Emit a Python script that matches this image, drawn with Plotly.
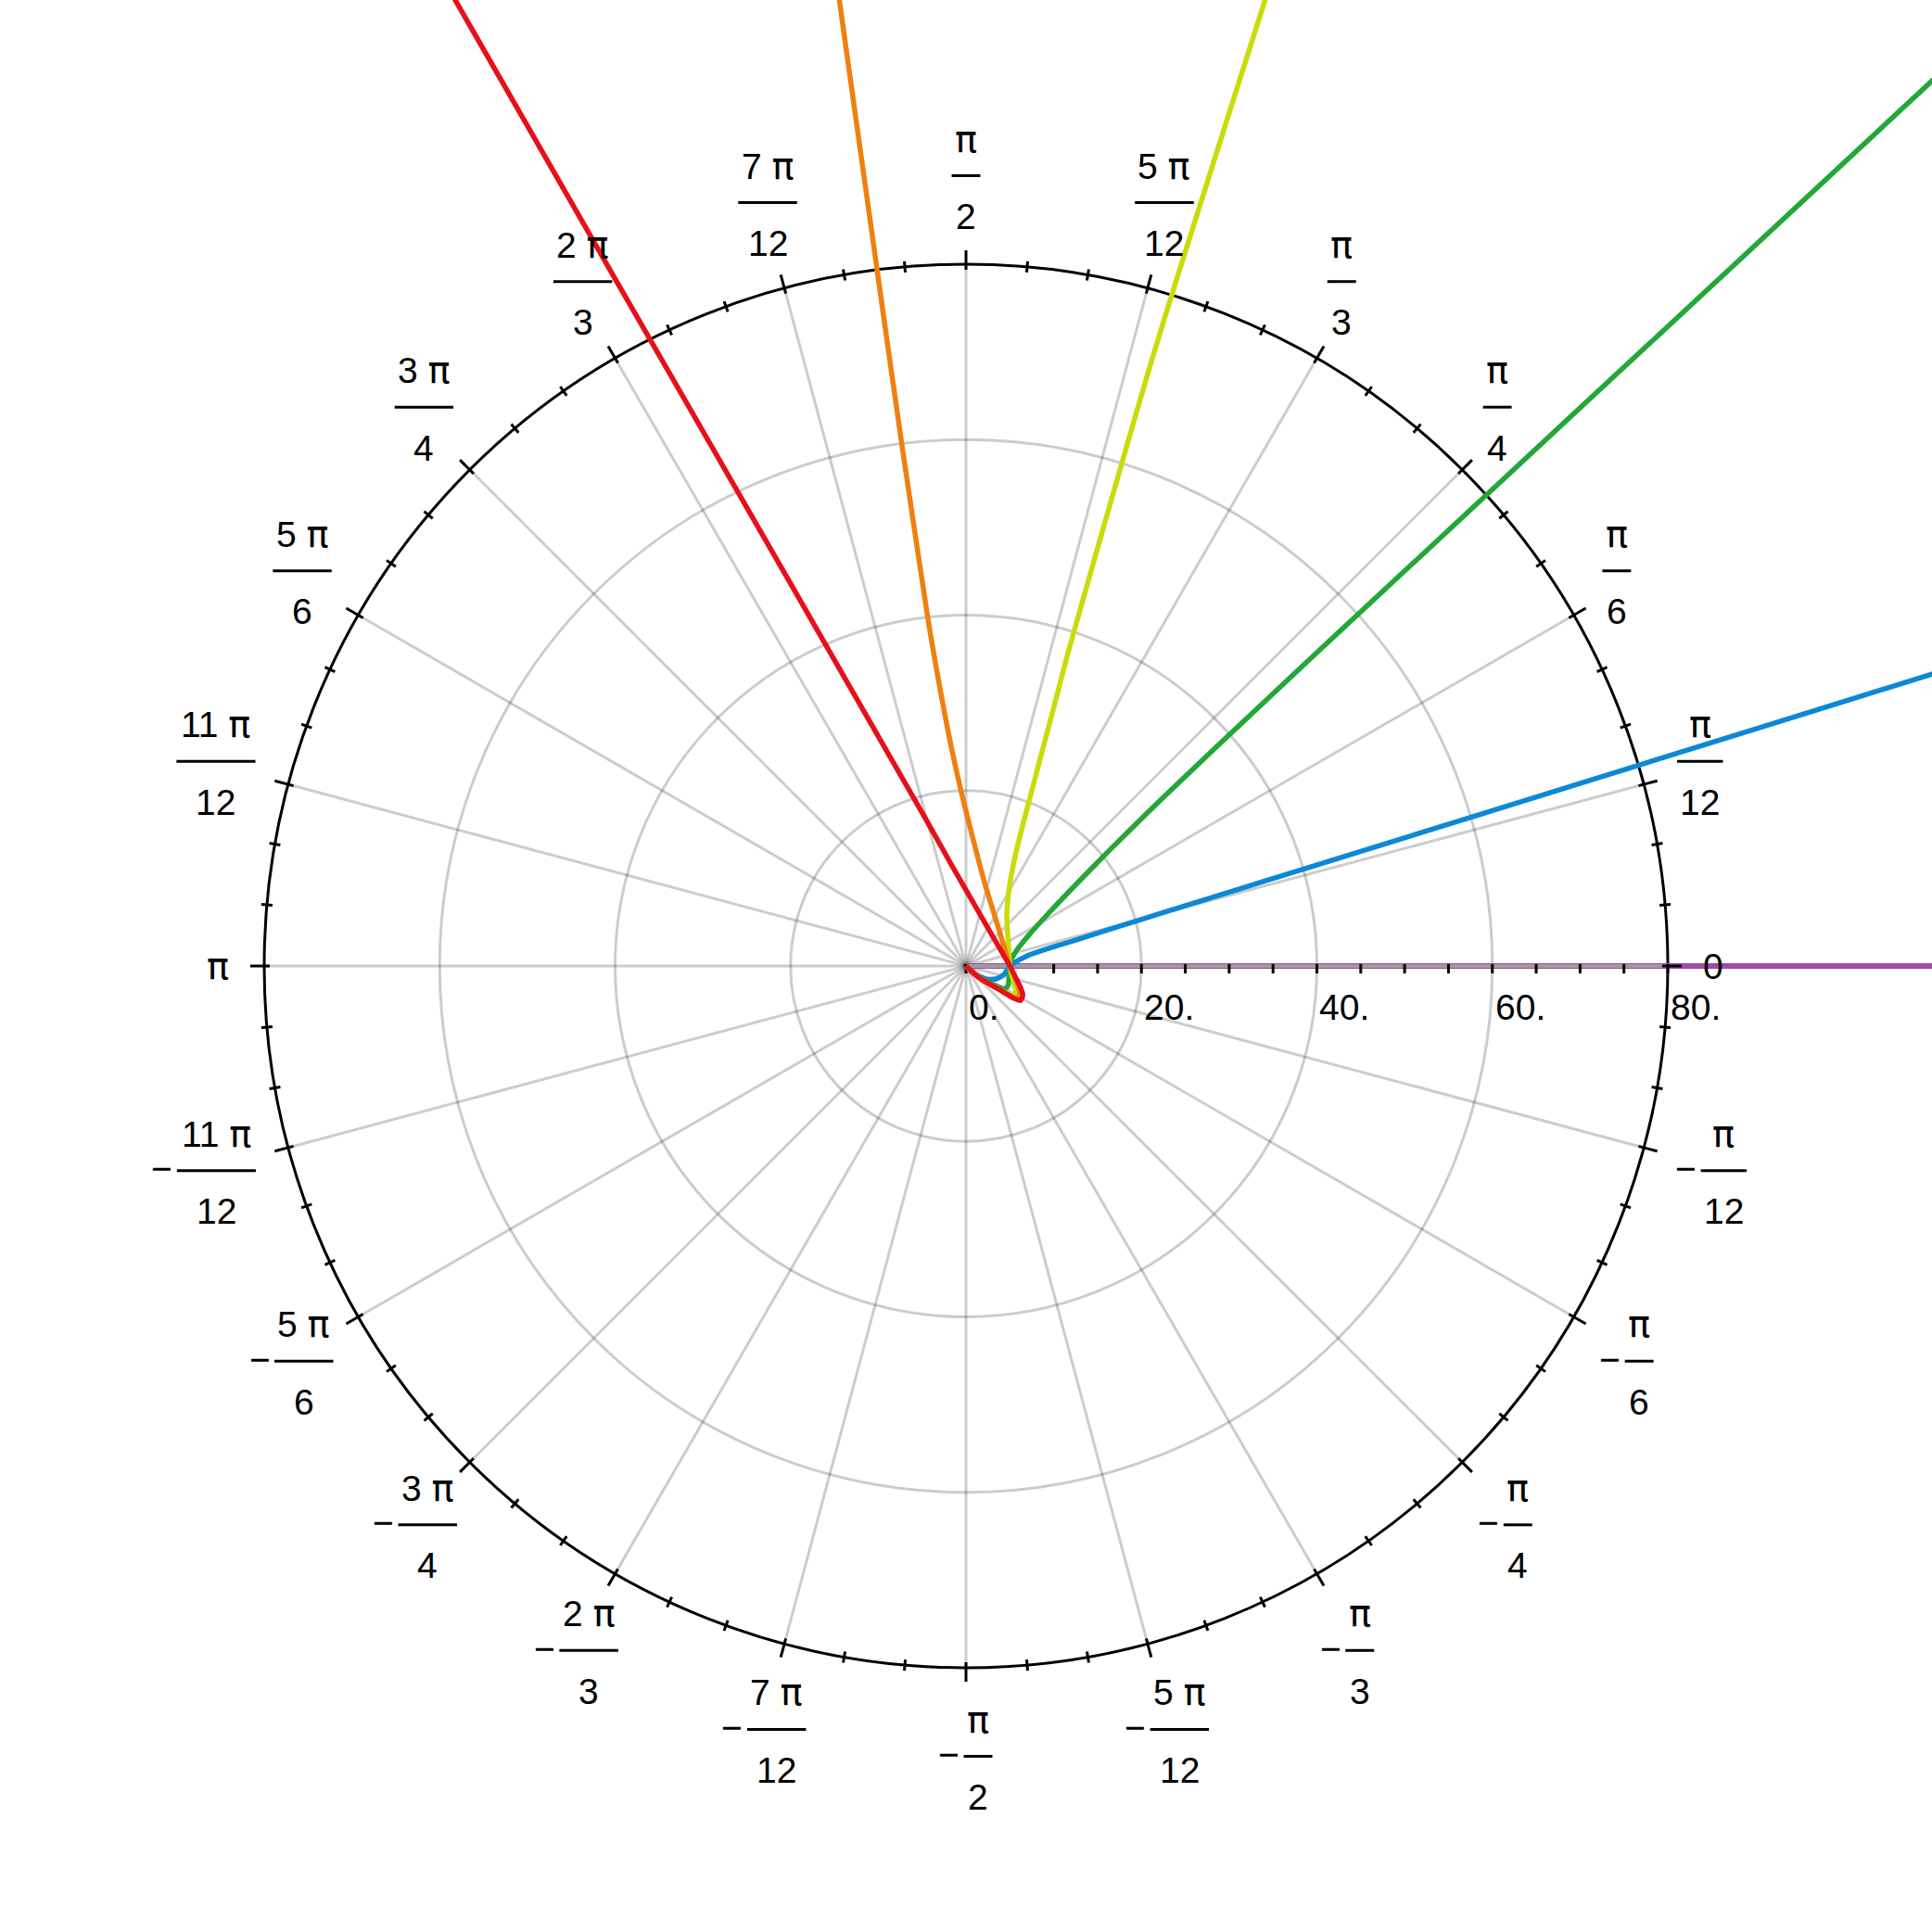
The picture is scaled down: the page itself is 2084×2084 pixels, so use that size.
import numpy as np
import plotly.graph_objects as go

# ---------------- data (polar: r, theta in degrees) ----------------
purple_r = [0, 200]
purple_theta = [0, 0]

blue_r = [0, 1.2, 2.69, 3.78, 4.47, 5.0, 6.92, 9.51, 13.18, 20.56, 27.93, 35.3, 44.89, 72.55, 115.03, 160.0]
blue_theta = [-45, -45, -33.3, -22.6, -11.9, 0, 9.07, 11.96, 13.38, 14.88, 15.5, 15.86, 16.15, 16.56, 16.81, 16.95]

green_r = [0, 2.07, 4.0, 5.09, 5.29, 5.09, 5.0, 5.26, 6.05, 8.02, 11.01, 16.01, 21.01, 25.94, 30.83, 38.1, 45.36, 54.04, 93.96, 149.38, 200]
green_theta = [-42, -41.5, -34.2, -30.8, -25.2, -15.6, 0, 8.7, 17.3, 26.28, 32.35, 36.8, 38.89, 40.0, 40.65, 41.2, 41.52, 41.78, 42.26, 42.5, 42.65]

yellow_r = [0, 2.07, 4.5, 6.16, 6.41, 5.85, 5.3, 5.0, 5.67, 7.47, 9.96, 12.69, 16.24, 19.85, 25.28, 30.73, 38.0, 59.97, 71.34, 82.03, 115.29, 160]
yellow_theta = [-42, -41.5, -35.4, -32.4, -27.9, -20, -10.9, 0, 32.3, 51.5, 60.5, 64.9, 67.56, 68.98, 70.35, 71.2, 71.99, 72.78, 72.95, 72.95, 72.8, 72.7]

orange_r = [0, 2.07, 4.5, 6.51, 7.0, 6.8, 5.92, 5.0, 4.8, 4.83, 5.08, 5.76, 9.3, 14.33, 19.95, 25.63, 34.2, 39.9, 60.19, 79.05, 111.06, 150]
orange_theta = [-42, -41.5, -35.4, -33.5, -31, -26.2, -15.7, 0, 12, 24.4, 36.2, 50.4, 76.0, 86.6, 91.6, 94.03, 95.7, 96.26, 97.02, 97.27, 97.47, 97.6]

red_r = [0, 2.07, 4.50, 6.55, 7.35, 7.28, 6.53, 5.73, 5.0, 4.36, 5.0, 8.66, 11.94, 17.98, 37.0, 56.0, 88.04, 124.6, 170]
red_theta = [-42, -41.5, -35.4, -34.0, -32.5, -27.1, -20.2, -12.1, 0, 23.4, 60, 90, 98.7, 105.8, 113.1, 115.4, 117.05, 117.87, 118.4]

curve_colors = {
    "purple": "#a24aa6", "blue": "#0b89d6", "green": "#22a838",
    "yellow": "#c9dc0a", "orange": "#ef8010", "red": "#e5101a",
}

# radial axis
radial_ticks = list(range(0, 85, 5))
radial_label_vals = [0, 20, 40, 60, 80]
radial_label_txt = ["0.", "20.", "40.", "60.", "80."]
grid_radii = [20, 40, 60]
r_max = 80

# angular axis (degrees) and labels
ang_deg = [0, 15, 30, 45, 60, 75, 90, 105, 120, 135, 150, 165, 180,
           -15, -30, -45, -60, -75, -90, -105, -120, -135, -150, -165]
ang_num = ["0", "π", "π", "π", "π", "5 π", "π", "7 π", "2 π", "3 π", "5 π", "11 π", "π",
           "π", "π", "π", "π", "5 π", "π", "7 π", "2 π", "3 π", "5 π", "11 π"]
ang_den = ["", "12", "6", "4", "3", "12", "2", "12", "3", "4", "6", "12", "",
           "12", "6", "4", "3", "12", "2", "12", "3", "4", "6", "12"]
ang_neg = [False] * 13 + [True] * 11
minor_deg = list(range(0, 360, 5))

# ---------------- geometry helpers ----------------
W = 2084
S = 757.0 / 80.0          # px per data unit
HALF = (W / 2) / S        # half range in data units
FONT = "Liberation Sans, Arial, sans-serif"
PI_FONT = "DejaVu Sans"
FS = 39


def to_xy(r, th):
    r = np.asarray(r, float)
    t = np.radians(np.asarray(th, float))
    return r * np.cos(t), r * np.sin(t)


def text_w(s):
    w = 0.0
    for ch in s:
        if ch.isdigit():
            w += 0.556 * FS
        elif ch == "π":
            w += 0.64 * FS
        elif ch == " ":
            w += 0.278 * FS
        else:
            w += 0.5 * FS
    return w


def fmt(s):
    return s.replace("π", "<span style=\"font-family:%s;font-size:40px\">π</span>" % PI_FONT)


fig = go.Figure()
shapes = []
annotations = []

# grid circles
for g in grid_radii:
    shapes.append(dict(type="circle", xref="x", yref="y", x0=-g, y0=-g, x1=g, y1=g,
                       line=dict(color="rgba(0,0,0,0.2)", width=3), layer="below"))
# spokes
for a in range(0, 360, 15):
    x1, y1 = to_xy(r_max, a)
    shapes.append(dict(type="line", xref="x", yref="y", x0=0, y0=0, x1=float(x1), y1=float(y1),
                       line=dict(color="rgba(0,0,0,0.2)", width=3), layer="below"))
# outer circle
shapes.append(dict(type="circle", xref="x", yref="y", x0=-r_max, y0=-r_max, x1=r_max, y1=r_max,
                   line=dict(color="black", width=3), layer="below"))


def add_curve(r, th, color, width=5.5):
    x, y = to_xy(r, th)
    fig.add_trace(go.Scatter(x=x, y=y, mode="lines",
                             line=dict(color=color, width=width, shape="spline", smoothing=0.7),
                             hoverinfo="skip", showlegend=False))


add_curve(purple_r, purple_theta, curve_colors["purple"], 6)

# radial axis line (drawn above purple)
fig.add_trace(go.Scatter(x=[0, r_max], y=[0, 0], mode="lines", line=dict(color="#9c9c9c", width=4),
                         hoverinfo="skip", showlegend=False))

# ticks
tx, ty = [], []
for a in minor_deg:
    if a % 15 == 0:
        r0, r1 = r_max - 6 / S, r_max + 15 / S
    else:
        r0, r1 = r_max - 6 / S, r_max + 6 / S
    xa, ya = to_xy([r0, r1], [a, a])
    tx += list(xa) + [None]
    ty += list(ya) + [None]
for v in radial_ticks:
    tx += [v, v, None]
    ty += [2 / S, -8 / S, None]
fig.add_trace(go.Scatter(x=tx, y=ty, mode="lines", line=dict(color="black", width=3),
                         hoverinfo="skip", showlegend=False))

add_curve(blue_r, blue_theta, curve_colors["blue"])
add_curve(green_r, green_theta, curve_colors["green"])
add_curve(yellow_r, yellow_theta, curve_colors["yellow"])
add_curve(orange_r, orange_theta, curve_colors["orange"])
add_curve(red_r, red_theta, curve_colors["red"])

# radial labels
for v, t in zip(radial_label_vals, radial_label_txt):
    annotations.append(dict(x=v + 0.1, y=-44 / S, xref="x", yref="y", text=t, showarrow=False,
                            xanchor="left", yanchor="middle", font=dict(family=FONT, size=FS, color="black")))

# angular labels
R_E = 795.0
for a, num, den, neg in zip(ang_deg, ang_num, ang_den, ang_neg):
    t = np.radians(a)
    if den:
        bw = max(text_w(num), text_w(den)) + 6
        H = 115.0
    else:
        bw = text_w(num)
        H = 28.0
    Wt = bw + (26 if neg else 0)
    cx = R_E * np.cos(t) + Wt / 2 * np.cos(t)
    cy = R_E * np.sin(t) + H / 2 * np.sin(t)
    left = cx - Wt / 2
    bx = left + (26 if neg else 0) + bw / 2
    f = dict(family=FONT, size=FS, color="black")
    if den:
        annotations.append(dict(x=bx / S, y=cy / S, xref="x", yref="y", text=fmt(num), showarrow=False,
                                xanchor="center", yanchor="middle", yshift=40, font=f))
        annotations.append(dict(x=bx / S, y=cy / S, xref="x", yref="y", text=den, showarrow=False,
                                xanchor="center", yanchor="middle", yshift=-44, font=f))
        shapes.append(dict(type="line", xref="x", yref="y", x0=(bx - bw / 2) / S, x1=(bx + bw / 2) / S,
                           y0=cy / S, y1=cy / S, line=dict(color="black", width=3)))
        if neg:
            annotations.append(dict(x=(left + 10) / S, y=cy / S, xref="x", yref="y", text="−", showarrow=False,
                                    xanchor="center", yanchor="middle", yshift=2, font=f))
    else:
        annotations.append(dict(x=cx / S, y=cy / S, xref="x", yref="y", text=fmt(num), showarrow=False,
                                xanchor="center", yanchor="middle", font=f))

fig.update_layout(
    width=W, height=W, margin=dict(l=0, r=0, t=0, b=0),
    paper_bgcolor="white", plot_bgcolor="white",
    xaxis=dict(range=[-HALF, HALF], visible=False, fixedrange=True),
    yaxis=dict(range=[-HALF, HALF], visible=False, fixedrange=True, scaleanchor="x", scaleratio=1),
    shapes=shapes, annotations=annotations, showlegend=False,
)

fig.write_html("out.html", config={"displayModeBar": False},
               post_script="document.body.style.margin='0';document.body.style.overflow='hidden';")
